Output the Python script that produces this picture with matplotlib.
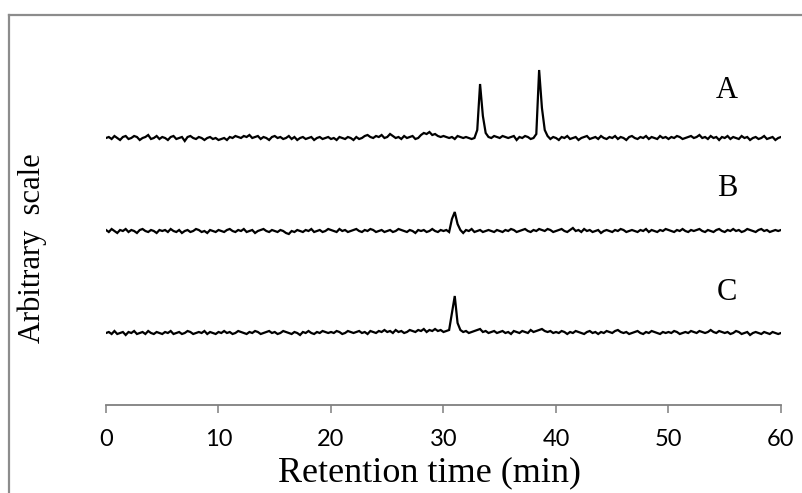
import numpy as np
import matplotlib
matplotlib.use("Agg")
import matplotlib.pyplot as plt
from matplotlib.lines import Line2D

# ──────────────────────────────────────────────────────────────────
# Data (signal in arbitrary units, 0.25 min steps)
# ──────────────────────────────────────────────────────────────────
STEP_MIN = 0.25

trace_names = ["A", "B", "C"]
baselines = [267, 174, 72]

signal_a = [
    0, 1, -1, 2, 0, -2, 1, 2, -1, 0, 2, 1, -2, 0, 1, 3, -1, 0, 2, -1,
    1, 0, -2, 1, 2, -1, 0, 1, -3, 1, 2, 0, -1, 1, 0, -2, 0, 1, -1, 0,
    -2, -1, 0, -2, 1, 0, 2, 1, 0, 2, 1, 3, 0, 1, 2, -1, 1, 0, -2, 1,
    2, 0, 1, -1, 0, 2, -1, 1, -2, 0, 1, -1, 0, 1, -2, 0, 1, -1, 0, 1,
    -1, 0, -2, 1, 0, -1, 1, 0, -2, 1, -1, 0, 2, 3, 1, 0, 2, 1, 3, 0,
    1, 4, 2, 0, 1, -1, 2, 0, 1, 2, -1, 0, 3, 5, 4, 6, 3, 4, 2, 1,
    2, 1, 0, 1, -1, 2, 1, 0, 1, 0, -1, 0, 8, 54, 22, 5, 1, 0, 2, 1,
    0, 2, 1, 0, 1, 2, -2, 1, 0, 2, 1, -1, 0, 4, 68, 30, 8, 2, -1, 1,
    0, -2, 1, 0, 2, -1, 0, 1, -2, 0, 1, 2, -1, 0, 1, -1, 2, 0, -1, 1,
    0, 2, -1, 1, 0, -2, 1, 2, 0, -1, 1, 0, 2, -1, 1, 0, -1, 2, 0, 1,
    -1, 1, 0, 2, 1, -1, 0, 1, 2, 0, 1, 3, 0, 1, -1, 2, 0, 1, -2, 1,
    0, 2, -1, 1, 0, -1, 2, 0, 1, -2, 0, 1, -1, 0, 2, -1, 0, 1, -2, 0,
    1,
]

signal_b = [
    1, -1, 2, 0, -2, 1, 0, 2, -1, 1, 0, -2, 1, 2, 0, -1, 1, 0, -2, 1,
    0, 1, -1, 2, 0, -1, 1, -2, 0, 1, -1, 0, 2, 1, -1, 0, -2, 1, 0, -1,
    1, 0, -1, 1, 2, 0, -1, 1, 0, 2, -1, 0, 1, -2, 0, 1, 2, 0, -1, 1,
    0, -1, 1, 0, -2, -3, 0, -1, 1, 0, -1, 1, 0, 2, -1, 0, 1, -1, 0, 2,
    1, 0, -1, 2, 0, 1, -1, 0, 1, 2, 0, -1, 1, 0, 2, 1, -1, 0, 1, -1,
    0, 1, -1, 0, 2, 1, 0, -1, 1, 0, -2, 1, 0, 1, -1, 0, 2, 0, -1, 1,
    0, 1, -1, 12, 19, 7, 1, -2, 1, 0, 2, -1, 0, 1, -1, 0, 1, 0, -1, 1,
    0, -1, 1, 0, 2, 1, -1, 0, 1, 2, 0, -1, 1, 0, 2, 1, 0, 2, 1, -1,
    0, 1, 2, 0, -1, 1, 3, 0, 1, -1, 2, 0, 1, -1, 0, 1, -2, 0, 1, 0,
    -1, 1, 0, 2, 1, -1, 0, 1, 0, -1, 1, 0, 2, -1, 1, 0, -1, 1, 0, 2,
    1, 0, -1, 1, 0, 2, 0, -1, 1, 0, 1, 2, 0, -1, 1, 0, -1, 1, 2, 0,
    -1, 1, 0, 2, 0, 1, -1, 0, 2, 1, 0, -1, 1, 2, 0, 1, -1, 0, 1, 0,
    1,
]

signal_c = [
    0, 1, -1, 2, -1, 0, 1, -2, 1, 0, 2, -1, 0, 1, -1, 2, 0, -1, 1, 0,
    -1, 1, 0, 2, -1, 0, 1, -1, 0, 2, 1, -1, 0, 1, 0, 2, -1, 1, 0, -1,
    1, 0, 2, 0, 1, -1, 0, 2, 1, 0, -1, 1, 0, 2, 1, -1, 0, 1, 2, 0,
    1, -1, 0, 2, 1, 0, -1, 1, 0, -2, 1, 0, 2, 0, -1, 1, 0, 2, 1, 0,
    1, 0, 2, 1, -1, 0, 2, 1, 0, 1, 2, 0, 1, -1, 2, 1, 0, 2, 1, 3,
    1, 2, 0, 3, 1, 2, 0, 1, 3, 2, 1, 3, 2, 4, 1, 3, 2, 4, 2, 3,
    1, 2, 3, 20, 37, 10, 3, 1, 2, 0, 1, 2, 3, 4, 1, 2, 0, 1, 2, 0,
    1, 2, 0, 1, -1, 2, 1, 0, 2, 1, 0, 3, 1, 2, 3, 4, 2, 1, 2, 0,
    1, 0, 2, 1, -1, 1, 0, 2, 1, 0, -1, 1, 2, 0, 1, -1, 1, 0, 2, 1,
    0, 2, 3, 1, 0, 1, -1, 0, 1, 2, 0, -1, 1, 0, 2, 1, 0, -1, 1, 0,
    1, 0, 2, 1, -1, 0, 1, 0, 2, 1, 0, 2, 1, 0, 1, 3, 1, 0, 2, 1,
    0, 1, -1, 0, 2, 1, -1, 0, 1, -2, 0, 1, 0, -1, 1, 0, -1, 1, 0, -1,
    0,
]

x_ticks = [0, 10, 20, 30, 40, 50, 60]

# ──────────────────────────────────────────────────────────────────
# Figure
# ──────────────────────────────────────────────────────────────────
W, H = 803, 493
fig = plt.figure(figsize=(W / 100, H / 100), dpi=100)
ax = fig.add_axes([106 / W, 1 - 405 / H, 675 / W, 365 / H])

SERIF = "Liberation Serif"
label_lift = [47, 42, 41]   # label height above its own baseline

for name, base, sig, lift in zip(trace_names, baselines,
                                 [signal_a, signal_b, signal_c], label_lift):
    sig = np.asarray(sig, dtype=float)
    t = STEP_MIN * np.arange(len(sig))
    ax.plot(t, base + sig, color="black", lw=1.6, solid_joinstyle="miter")
    ax.text(55.2, base + lift, name, family=SERIF, fontsize=22,
            ha="center", va="center")

ax.set_xlim(0, 60)
ax.set_ylim(0, 365)
ax.set_xticks(x_ticks)
ax.set_yticks([])
for side in ("left", "top", "right"):
    ax.spines[side].set_visible(False)
ax.spines["bottom"].set_color("#7f7f7f")
ax.spines["bottom"].set_linewidth(1.3)
ax.tick_params(axis="x", direction="out", length=5.5, width=1.1,
               color="#7f7f7f", pad=12, labelsize=17)
for lbl in ax.get_xticklabels():
    lbl.set_family("Lato")

ax.set_xlabel("Retention time (min)", family=SERIF, fontsize=26)
ax.xaxis.set_label_coords(0.48, -0.14)
ax.xaxis.label.set_va("top")
ax.set_ylabel("Arbitrary  scale", family=SERIF, fontsize=22)
ax.yaxis.set_label_coords(-0.087, 0.43)

# outer chart frame (only left and top edges fall inside the picture)
fig.add_artist(Line2D([8.5 / W, 8.5 / W], [0, 1 - 14.5 / H], color="#8c8c8c", lw=1.6))
fig.add_artist(Line2D([8.5 / W, 1], [1 - 14.5 / H, 1 - 14.5 / H], color="#8c8c8c", lw=1.6))

fig.savefig("out.png", dpi=100)
